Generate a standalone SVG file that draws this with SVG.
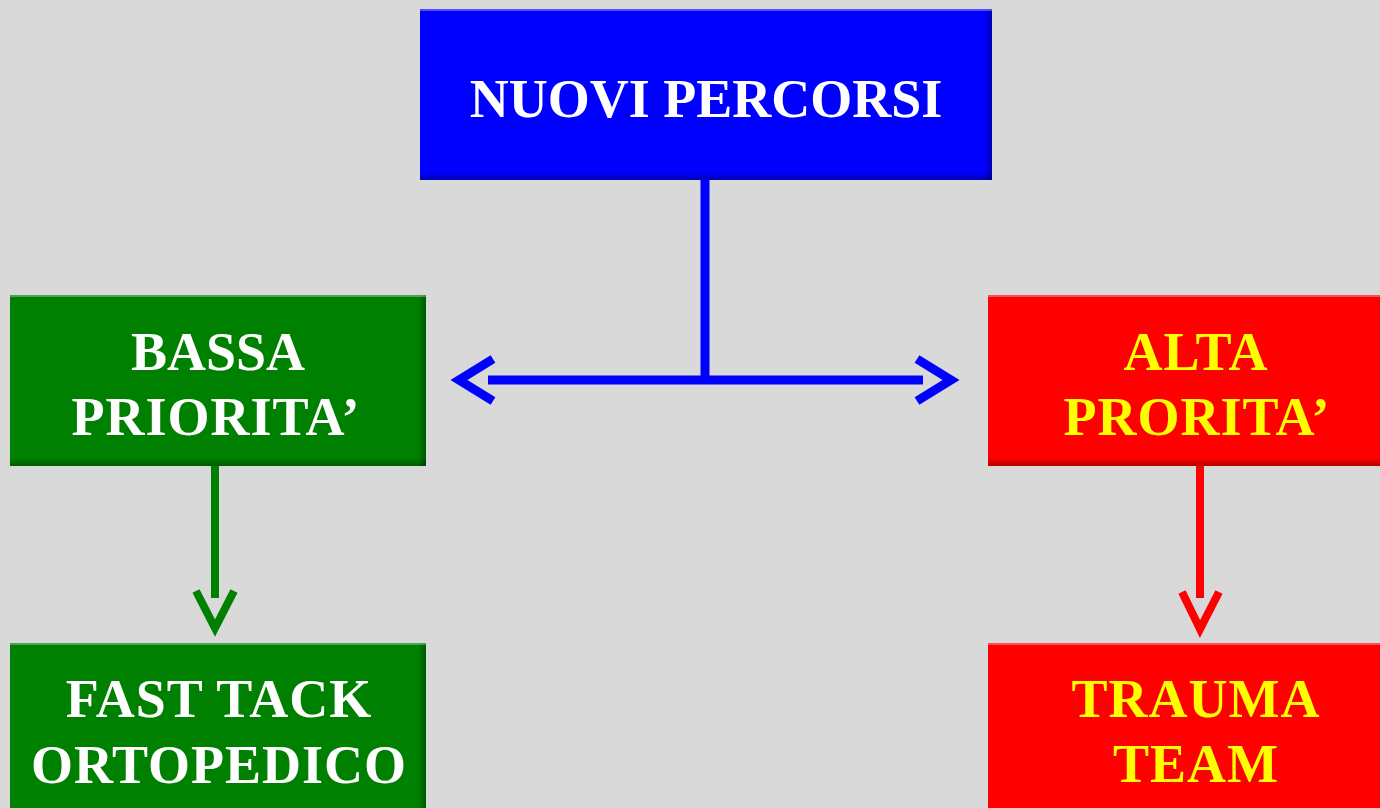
<svg xmlns="http://www.w3.org/2000/svg" width="1380" height="808" viewBox="0 0 1380 808">
<defs>
<style>
.lbl{font-family:"Liberation Serif","Times New Roman",serif;font-weight:bold;font-size:54px;text-anchor:middle}
.ls{letter-spacing:1px}
.w{fill:#ffffff}
.y{fill:#ffff00}
.hl{fill:#ffffff;opacity:0.3}
</style>
<linearGradient id="gR" x1="0" y1="0" x2="1" y2="0"><stop offset="0" stop-color="#000" stop-opacity="0"/><stop offset="1" stop-color="#000" stop-opacity="0.3"/></linearGradient>
<linearGradient id="gB" x1="0" y1="0" x2="0" y2="1"><stop offset="0" stop-color="#000" stop-opacity="0"/><stop offset="1" stop-color="#000" stop-opacity="0.3"/></linearGradient>
</defs>
<rect width="1380" height="808" fill="#d9d9d9"/>

<g id="connectors" fill="none" stroke-width="9" stroke-linecap="butt">
<path d="M705 180 V384" stroke="#0000ff"/>
<path d="M488 380 H923" stroke="#0000ff"/>
<path d="M493 359 L459 380 L493 401" stroke="#0000ff"/>
<path d="M917 359 L951 380 L917 401" stroke="#0000ff"/>
<path d="M215 466 V598" stroke="#008000" stroke-width="8"/>
<path d="M196 591 L215 628 L234 591" stroke="#008000" stroke-width="8"/>
<path d="M1200 466 V598" stroke="#ff0000" stroke-width="8"/>
<path d="M1182 592 L1200 629 L1219 592" stroke="#ff0000" stroke-width="8"/>
</g>

<g id="node-nuovi">
<rect x="420" y="9" width="572" height="171" fill="#0000ff"/>
<rect x="984" y="9" width="8" height="171" fill="url(#gR)"/>
<rect x="420" y="172" width="572" height="8" fill="url(#gB)"/>
<rect x="420" y="9" width="572" height="2" class="hl"/>
<text class="lbl w" x="706" y="117">NUOVI PERCORSI</text>
</g>

<g id="node-bassa">
<rect x="10" y="295" width="416" height="171" fill="#008000"/>
<rect x="418" y="295" width="8" height="171" fill="url(#gR)"/>
<rect x="10" y="458" width="416" height="8" fill="url(#gB)"/>
<rect x="10" y="295" width="416" height="2" class="hl"/>
<text class="lbl w" x="218" y="370">BASSA</text>
<text class="lbl w ls" x="216" y="435">PRIORITA’</text>
</g>

<g id="node-alta">
<rect x="988" y="295" width="392" height="171" fill="#ff0000"/>
<rect x="988" y="458" width="392" height="8" fill="url(#gB)"/>
<rect x="988" y="295" width="392" height="2" class="hl"/>
<text class="lbl y ls" x="1196" y="370">ALTA</text>
<text class="lbl y ls" x="1197" y="435">PRORITA’</text>
</g>

<g id="node-fast">
<rect x="10" y="643" width="416" height="165" fill="#008000"/>
<rect x="418" y="643" width="8" height="165" fill="url(#gR)"/>
<rect x="10" y="643" width="416" height="2" class="hl"/>
<text class="lbl w ls" x="219" y="717">FAST TACK</text>
<text class="lbl w ls" x="219" y="783">ORTOPEDICO</text>
</g>

<g id="node-trauma">
<rect x="988" y="643" width="392" height="165" fill="#ff0000"/>
<rect x="988" y="643" width="392" height="2" class="hl"/>
<text class="lbl y ls" x="1196" y="717">TRAUMA</text>
<text class="lbl y ls" x="1196" y="782">TEAM</text>
</g>
</svg>
